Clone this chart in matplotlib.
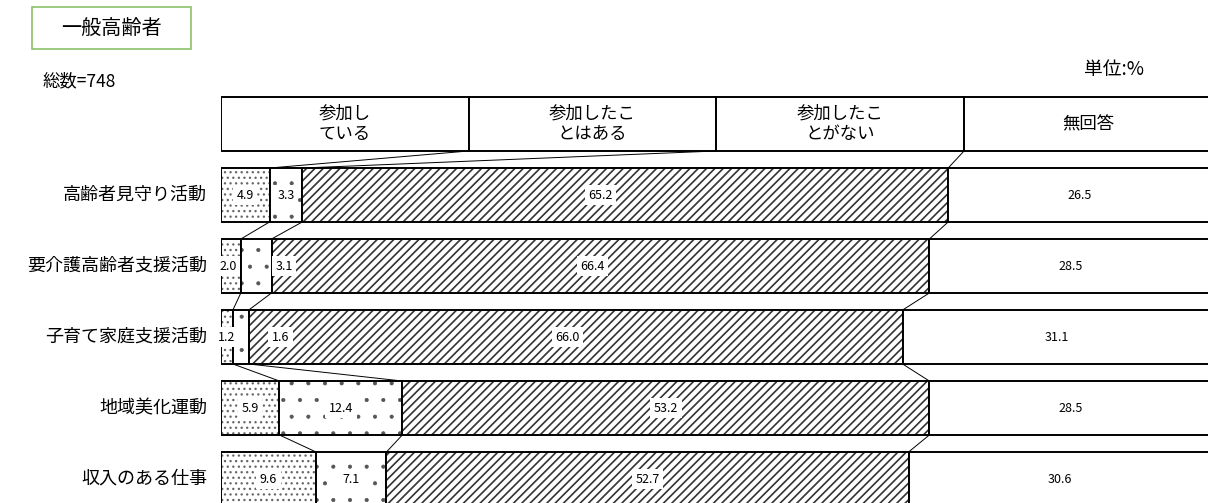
import matplotlib
matplotlib.use('Agg')
import matplotlib.pyplot as plt
from matplotlib.patches import Rectangle
import numpy as np

# ---- data ----
categories = ['高齢者見守り活動', '要介護高齢者支援活動', '子育て家庭支援活動', '地域美化運動', '収入のある仕事']
series_names = ['参加し\nている', '参加したこ\nとはある', '参加したこ\nとがない', '無回答']
participating = [4.9, 2.0, 1.2, 5.9, 9.6]
participated_before = [3.3, 3.1, 1.6, 12.4, 7.1]
never_participated = [65.2, 66.4, 66.0, 53.2, 52.7]
no_answer = [26.5, 28.5, 31.1, 28.5, 30.6]
header_widths = [25, 25, 25, 25]
title = '一般高齢者'
total_text = '総数=748'
unit_text = '単位:%'

# label nudges (in % units) for crowded labels
label_nudge = {(0, 2): -2.5, (1, 1): 2.8, (1, 2): -0.8, (2, 1): 4.0, (2, 2): -0.8, (1, 0): -0.3}

plt.rcParams['font.family'] = ['Noto Sans CJK JP', 'DejaVu Sans']

W, H = 1208, 503
fig = plt.figure(figsize=(W / 100, H / 100), dpi=100)
ax = fig.add_axes([221 / W, 0, 990.7 / W, 414.5 / H])
ax.set_xlim(0, 100)
ax.set_ylim(5.338, -0.5)
ax.axis('off')

h = 0.76
data = np.array([participating, participated_before, never_participated, no_answer]).T
hatches = ['...', '.', '////', '']
hatch_colors = ['#666666', '#555555', '#333333', 'white']
hatch_lws = [0.9, 0.5, 1.2, 0.5]
ys = np.arange(1, len(categories) + 1)

# header row
hl = 0.0
for j, (wv, name) in enumerate(zip(header_widths, series_names)):
    ax.barh([0], [wv], left=[hl], height=h, color='white', edgecolor='black', linewidth=1.4)
    ax.text(hl + wv / 2, 0, name, ha='center', va='center', fontsize=12.5, linespacing=1.2)
    hl += wv

lefts = np.zeros(len(categories))
for j in range(4):
    vals = data[:, j]
    with plt.rc_context({'hatch.linewidth': hatch_lws[j]}):
        bars = ax.barh(ys, vals, left=lefts, height=h, color='white', edgecolor=hatch_colors[j],
                       hatch=hatches[j], linewidth=0)
    for b in bars:
        if hasattr(b, 'set_hatch_linewidth'):
            b.set_hatch_linewidth(hatch_lws[j])
    ax.barh(ys, vals, left=lefts, height=h, fill=False, edgecolor='black', linewidth=1.4)
    for i, (l, v) in enumerate(zip(lefts, vals)):
        ax.text(l + v / 2 + label_nudge.get((i, j), 0), ys[i], f'{v:.1f}', ha='center', va='center',
                fontsize=9, bbox=dict(facecolor='white', edgecolor='none', pad=2.5))
    lefts = lefts + vals

# series lines
prev = np.cumsum(header_widths)[:3]
prev_y = 0
for i in range(len(categories)):
    cur = np.cumsum(data[i, :3])
    for a, b in zip(prev, cur):
        ax.plot([a, b], [prev_y + h / 2, ys[i] - h / 2], color='black', linewidth=0.7)
    prev = cur
    prev_y = ys[i]

# category labels
for i, cat in enumerate(categories):
    ax.text(-1.4, ys[i], cat, ha='right', va='center', fontsize=13)

# title box and texts
fig.add_artist(Rectangle((32 / W, 1 - 49 / H), 159 / W, 42 / H, transform=fig.transFigure,
                         fill=False, edgecolor='#8cc068', linewidth=1.2))
fig.text(111.5 / W, 1 - 28 / H, title, ha='center', va='center', fontsize=14.5)
fig.text(43 / W, 1 - 81 / H, total_text, ha='left', va='center', fontsize=12.5)
fig.text(1084 / W, 1 - 70 / H, unit_text, ha='left', va='center', fontsize=13.5)

fig.savefig('out.png', dpi=100)
